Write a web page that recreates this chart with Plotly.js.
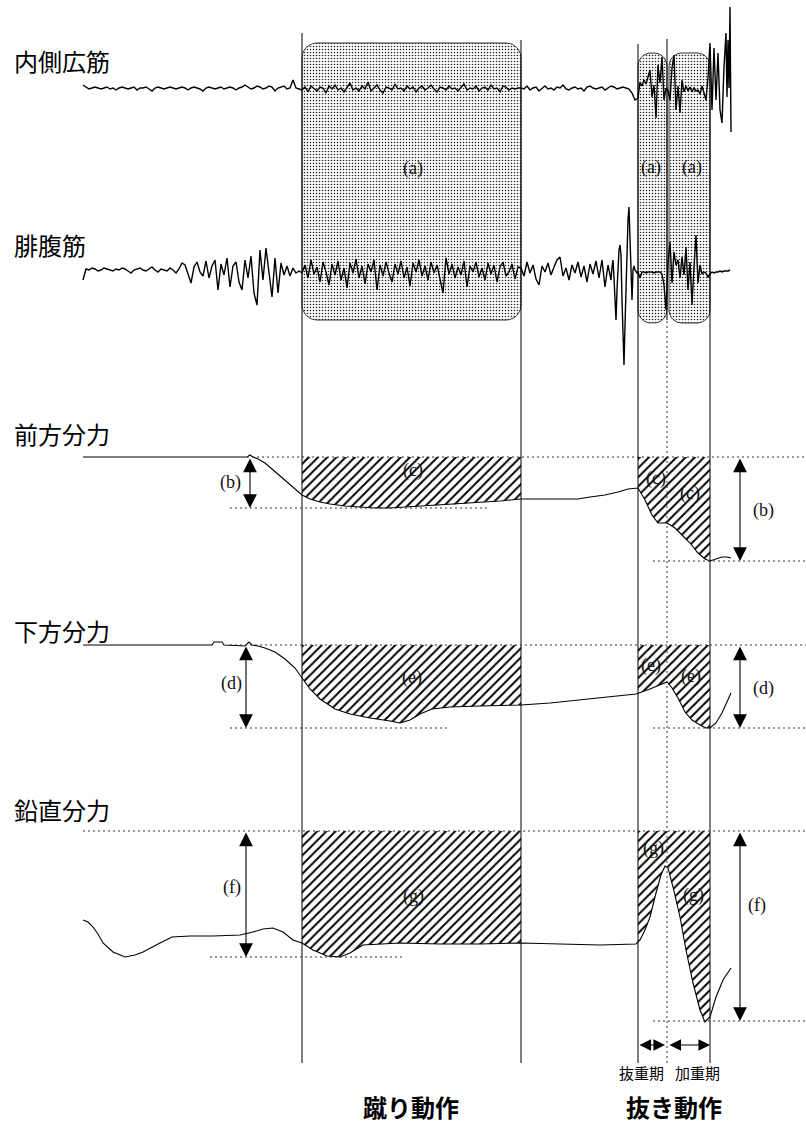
<!DOCTYPE html>
<html><head><meta charset="utf-8">
<script src="https://cdn.plot.ly/plotly-3.0.1.min.js"></script>
<style>html,body{margin:0;padding:0;background:#fff}</style>
</head><body><div id="chart" style="width:806px;height:1126px"></div>
<script>
// ================= DATA =================
const rowLabels = ['内側広筋', '腓腹筋', '前方分力', '下方分力', '鉛直分力'];
const phaseLabels = ['蹴り動作', '抜き動作'];
const subPhaseLabels = ['抜重期', '加重期'];
// event times: kick start, kick end, pull start, unload/load boundary, pull end
const eventTimes = [302, 521, 638, 667, 710];

// 内側広筋 EMG (segment start times, sampling steps, values)
const vmStarts = [83, 302, 521, 638, 727];
const vmSteps = [3, 3, 3, 2, 1];
const vmA = [3,1,-1,0,1,0,-1,0,1,-1, 0,-2,0,1,0,-1,0,1,-2,0, 0,1,-1,-3,0,1,0,-1,0,1, 0,-1,0,1,0,-2,0,1,0,-1,
  -3,0,1,0,-1,0,1,-1,0,1, 0,-2,0,1,3,1,-1,0,2,1, -1,0,2,1,-3,0,1,2,-1,0, 8,0,-1];
const vmB = [-2,1,-4,2,-1,-3,1,0,-5,2, -1,3,-2,0,-4,1,5,-2,0,-3, 2,-1,6,-3,0,3,-2,-5,1,0, -2,4,-1,0,-3,2,-1,1,-4,0,
  2,-2,0,3,-1,-4,1,0,-2,2, -1,0,-3,1,4,-2,0,-1,2,-3, 0,1,-2,3,-1,0,-4,2,1,-2, 0,-1,0];
const vmC = [0,-1,2,-2,0,1,-3,0,2,-1, 0,-2,1,0,3,-1,-2,0,1,-1, 0,-3,1,2,0,-1,0,1,-2,0, 2,1,-1,0,1,0,-1,-5,-12];
const vmD = [-10,6,2,8,4,11,18,-9,3,-30, 23,5,31,-12,0,-2,-12,20,33,-22, 2,-25,8,-4,2,-3,1,-4,0,-3,
  -2,-6,2,-5,-12,10,45,-22,40,-12, 35,-22,-35,21,55];
const vmE = [-9,48,0,81,-44];

// 腓腹筋 EMG
const gcStarts = [83, 302, 521, 612, 638];
const gcSteps = [3, 3, 3, 1, 2];
const gcA = [-10,1,0,2,1,-1,0,2,1,0, -1,1,0,2,1,-1,-3,0,1,2, 0,-1,1,3,0,-2,1,0,-1,2, 0,-3,1,7,5,-4,-13,3,8,-2,
  -6,9,-8,4,10,-20,6,-5,12,-17, 4,8,-12,-20,10,-8,14,-23,-35,20, -10,22,-5,-27,12,-23,7,-5,4,-6, 2,-3,-1];
const gcB = [-3,5,-8,10,-4,3,-12,8,-2,-15, 6,-5,9,-10,2,-18,7,-3,11,-8, 4,-14,6,-2,10,-20,5,-6,8,-3,
  -12,6,-4,9,-8,3,-16,7,-2,10, -6,4,-10,8,-3,5,-9,-23,12,-4, 6,-8,3,-5,9,-17,4,-2,8,-7,
  2,-10,7,-4,5,-12,3,8,-6,-2, 6,-9,3];
const gcC = [2,-6,8,-3,5,-9,-15,4,-2,7, -5,3,10,13,-6,2,-10,5,-3,8, -7,4,-12,6,-4,9,-8,10,-17,5, -10];
const gcC2 = [3,10,-8,-25,-50,-20,8,20,25,15, -30,-70,-95,-55,-20,25,50,63,30,-15, -30,0,4,0,-2,-3];
const gcD = [-2,-8,-2,-2,-3,-2,-2,-2,-3,-2, -2,-2,-4,-15,-40,7,28,-13,18,5, 10,-8,13,-5,23,-20,8,-35,3,35,
  -13,5,-4,-2,-3,-7,-4,-2,-3,-2, -2,-1,-2,-1,-1,-1,0];

// 前方分力 (relative to pre-movement level)
const fwdT = [83,247,250,253,258,265,272,280,288,295, 302,310,320,330,345,360,375,390,405,420,
  440,460,480,500,521,545,570,578,590,605, 618,628,638,645,652,658,667,675,682,690, 698,705,710,716,722,727,731];
const fwdV = [0,0,2,0,-2,-6,-12,-19,-26,-32, -38,-42,-45,-47,-49,-50,-51,-51,-50,-49,
  -48,-47,-45,-44,-42,-42,-42,-42,-40,-38, -35,-32,-31,-43,-58,-66,-66,-71,-78,-86, -96,-102,-104,-102,-100,-100,-101];
// 下方分力
const dnT = [83,212,214,222,224,245,249,252,258,265, 275,285,295,302,310,320,335,350,370,390,
  400,410,420,432,450,480,521,550,580,610, 636,650,660,667,672,678,685,692,700,706, 710,716,722,731];
const dnV = [0,0,3,3,0,-1,3,0,-1,-3, -7,-14,-23,-33,-44,-54,-64,-69,-73,-76,
  -78,-75,-69,-64,-62,-61,-60,-58,-55,-52, -49,-44,-40,-37,-43,-53,-67,-75,-80,-83, -83,-78,-68,-48];
// 鉛直分力 (relative to the upper reference level)
const vtT = [83,88,93,98,103,113,125,135,143,150, 160,172,190,213,240,253,263,273,283,293,
  302,313,327,340,350,363,380,400,440,480, 521,560,600,636,640,645,650,656,661,665,
  668,673,680,686,693,700,705,710,716,723, 731];
const vtV = [-89,-91,-96,-103,-112,-121,-126,-124,-121,-117, -112,-106,-105,-105,-104,-101,-98,-97,-101,-109,
  -112,-119,-125,-126,-122,-114,-113,-112,-113,-113, -112,-113,-114,-113,-109,-99,-86,-62,-44,-35,
  -37,-56,-86,-119,-152,-179,-191,-186,-166,-149, -137];
// reference levels for the dotted lines / arrows
const fwdLevels = [0, -51, -104];
const dnLevels = [0, -83, -83];
const vtLevels = [0, -126, -190];

// ================= BUILD =================
const W = 806, H = 1126;
function buildSeries(starts, steps, segs) {
  const t = [], v = [];
  segs.forEach((seg, k) => seg.forEach((val, i) => { t.push(starts[k] + i * steps[k]); v.push(val); }));
  return {t, v};
}
const vm = buildSeries(vmStarts, vmSteps, [vmA, vmB, vmC, vmD, vmE]);
const gc = buildSeries(gcStarts, gcSteps, [gcA, gcB, gcC, gcC2, gcD]);

function interp(t, v, x) {
  for (let i = 0; i < t.length - 1; i++) {
    if (x >= t[i] && x <= t[i + 1]) return v[i] + (v[i + 1] - v[i]) * (x - t[i]) / (t[i + 1] - t[i]);
  }
  return v[v.length - 1];
}
function hatchPoly(t, v, a, b) {
  const xs = [a, a], ys = [0, interp(t, v, a)];
  t.forEach((ti, i) => { if (ti > a && ti < b) { xs.push(ti); ys.push(v[i]); } });
  xs.push(b, b, a); ys.push(interp(t, v, b), 0, 0);
  return {xs, ys};
}
function roundRect(x0, x1, y0, y1, r) {
  const xs = [], ys = [];
  const corners = [[x1 - r, y0 + r, -90], [x1 - r, y1 - r, 0], [x0 + r, y1 - r, 90], [x0 + r, y0 + r, 180]];
  corners.forEach(([cx, cy, a0]) => {
    for (let k = 0; k <= 10; k++) {
      const a = (a0 + 9 * k) * Math.PI / 180;
      xs.push(cx + r * Math.cos(a)); ys.push(cy + r * Math.sin(a));
    }
  });
  xs.push(xs[0]); ys.push(ys[0]);
  return {xs, ys};
}
const dom = (top, bot) => [1 - bot / H, 1 - top / H];
const py = p => 1 - p / H;

const traces = [];
// stippled analysis windows (page axis y)
const stipple = {shape: '.', size: 3, solidity: 0.22, fgcolor: '#222', bgcolor: 'rgba(0,0,0,0)'};
[[eventTimes[0], eventTimes[1], 43, 320, 15], [eventTimes[2], eventTimes[3], 53, 323, 13],
 [eventTimes[3] + 2, eventTimes[4], 53, 323, 13]].forEach(([a, b, t, bt, r]) => {
  const rr = roundRect(a, b, t, bt, r);
  traces.push({x: rr.xs, y: rr.ys, xaxis: 'x', yaxis: 'y', mode: 'lines', fill: 'toself',
    fillcolor: 'rgba(0,0,0,0)', fillpattern: stipple, line: {color: '#333', width: 1}, hoverinfo: 'skip'});
});
// hatched regions
const hatch = {shape: '/', size: 6.5, solidity: 0.3, fgcolor: '#000', bgcolor: 'rgba(0,0,0,0)'};
[[fwdT, fwdV, 'y4'], [dnT, dnV, 'y5'], [vtT, vtV, 'y6']].forEach(([t, v, ax]) => {
  [[eventTimes[0], eventTimes[1]], [eventTimes[2], eventTimes[4]]].forEach(([a, b]) => {
    const p = hatchPoly(t, v, a, b);
    traces.push({x: p.xs, y: p.ys, xaxis: 'x', yaxis: ax, mode: 'none', fill: 'toself',
      fillcolor: 'rgba(0,0,0,0)', fillpattern: hatch, hoverinfo: 'skip'});
  });
});
// signals
traces.push({x: vm.t, y: vm.v, xaxis: 'x', yaxis: 'y2', mode: 'lines', line: {color: '#000', width: 1.4}});
traces.push({x: gc.t, y: gc.v, xaxis: 'x', yaxis: 'y3', mode: 'lines', line: {color: '#000', width: 1.4}});
traces.push({x: fwdT, y: fwdV, xaxis: 'x', yaxis: 'y4', mode: 'lines', line: {color: '#000', width: 1.1}});
traces.push({x: dnT, y: dnV, xaxis: 'x', yaxis: 'y5', mode: 'lines', line: {color: '#000', width: 1.1}});
traces.push({x: vtT, y: vtV, xaxis: 'x', yaxis: 'y6', mode: 'lines', line: {color: '#000', width: 1.1}});

// shapes
const shapes = [];
const vTops = [33, 40, 44, 39, 55];
eventTimes.forEach((t, i) => {
  const bottom = (i === 3) ? 320 : 1063;
  shapes.push({type: 'line', xref: 'x', yref: 'paper', x0: t, x1: t, y0: py(bottom), y1: py(vTops[i]),
    line: {color: '#000', width: 1}});
});
const dotLine = {color: '#333', width: 1, dash: '2px,3px'};
shapes.push({type: 'line', xref: 'x', yref: 'paper', x0: eventTimes[3], x1: eventTimes[3], y0: py(1063), y1: py(320), line: dotLine});
function levelLines(levels, ax, x0top, x0bot, x1bot) {
  shapes.push({type: 'line', xref: 'x', yref: ax, x0: x0top, x1: W, y0: levels[0], y1: levels[0], line: dotLine});
  shapes.push({type: 'line', xref: 'x', yref: ax, x0: x0bot, x1: x1bot, y0: levels[1], y1: levels[1], line: dotLine});
  shapes.push({type: 'line', xref: 'x', yref: ax, x0: 653, x1: W, y0: levels[2], y1: levels[2], line: dotLine});
}
levelLines(fwdLevels, 'y4', 247, 230, 488);
levelLines(dnLevels, 'y5', 230, 230, 448);
levelLines(vtLevels, 'y6', 83, 210, 405);

// annotations
const ann = [];
const rowPy = [60, 245, 433, 630, 809];
rowLabels.forEach((s, i) => ann.push({text: s, xref: 'paper', yref: 'paper', x: 12 / W, y: py(rowPy[i]),
  xanchor: 'left', yanchor: 'middle', showarrow: false,
  font: {family: 'Noto Sans CJK JP', size: 24, color: '#000'}}));
const phaseX = [411, 674];
phaseLabels.forEach((s, i) => ann.push({text: '<b>' + s + '</b>', xref: 'x', yref: 'paper', x: phaseX[i], y: py(1106),
  xanchor: 'center', yanchor: 'middle', showarrow: false,
  font: {family: 'Noto Sans CJK JP', size: 24, color: '#000'}}));
const subX = [641, 697];
subPhaseLabels.forEach((s, i) => ann.push({text: s, xref: 'x', yref: 'paper', x: subX[i], y: py(1072),
  xanchor: 'center', yanchor: 'middle', showarrow: false,
  font: {family: 'Noto Sans CJK JP', size: 15, color: '#000'}}));
const letterPos = [
  ['(a)', 413, 168], ['(a)', 651, 167], ['(a)', 692, 167],
  ['(b)', 230, 482], ['(b)', 763, 510],
  ['(c)', 413, 470], ['(c)', 656, 478], ['(c)', 690, 493],
  ['(d)', 231, 683], ['(d)', 763, 688],
  ['(e)', 412, 677], ['(e)', 651, 665], ['(e)', 691, 676],
  ['(f)', 232, 887], ['(f)', 757, 905],
  ['(g)', 413, 896], ['(g)', 653, 848], ['(g)', 693, 895]];
letterPos.forEach(([s, x, y]) => ann.push({text: s, xref: 'x', yref: 'y', x: x, y: y, showarrow: false,
  xanchor: 'center', yanchor: 'middle', font: {family: 'Liberation Serif', size: 18, color: '#111'}}));
function dblArrow(x0, y0, x1, y1, ax, size) {
  ann.push({text: '', xref: 'x', yref: ax, axref: 'x', ayref: ax, x: x1, y: y1, ax: x0, ay: y0,
    showarrow: true, arrowhead: 2, startarrowhead: 2, arrowside: 'end+start',
    arrowsize: size, startarrowsize: size, arrowwidth: 1.1, arrowcolor: '#000', standoff: 0, startstandoff: 0});
}
dblArrow(250, fwdLevels[0], 250, fwdLevels[1], 'y4', 2.5);
dblArrow(246, dnLevels[0], 246, dnLevels[1], 'y5', 2.5);
dblArrow(246, vtLevels[0], 246, vtLevels[1], 'y6', 2.5);
dblArrow(740, fwdLevels[0], 740, fwdLevels[2], 'y4', 2.5);
dblArrow(740, dnLevels[0], 740, dnLevels[2], 'y5', 2.5);
dblArrow(740, vtLevels[0], 740, vtLevels[2], 'y6', 2.5);
const phaseArrowLevel = -214;
dblArrow(eventTimes[2], phaseArrowLevel, eventTimes[3] - 2, phaseArrowLevel, 'y6', 2.1);
dblArrow(eventTimes[3] + 1, phaseArrowLevel, eventTimes[4], phaseArrowLevel, 'y6', 2.1);

const hid = {visible: false, fixedrange: true, showgrid: false, zeroline: false};
const layout = {
  width: W, height: H, margin: {l: 0, r: 0, t: 0, b: 0, pad: 0},
  paper_bgcolor: '#fff', plot_bgcolor: 'rgba(0,0,0,0)', showlegend: false, hovermode: false,
  xaxis: Object.assign({range: [0, W], domain: [0, 1]}, hid),
  yaxis: Object.assign({range: [H, 0], domain: [0, 1]}, hid),
  yaxis2: Object.assign({range: [-62, 88], domain: dom(0, 150)}, hid),
  yaxis3: Object.assign({range: [-110, 120], domain: dom(150, 380)}, hid),
  yaxis4: Object.assign({range: [-133, 77], domain: dom(380, 590)}, hid),
  yaxis5: Object.assign({range: [-145, 55], domain: dom(590, 790)}, hid),
  yaxis6: Object.assign({range: [-295, 41], domain: dom(790, 1126)}, hid),
  shapes: shapes, annotations: ann
};
Plotly.newPlot('chart', traces, layout, {staticPlot: true, displayModeBar: false});
</script></body></html>
